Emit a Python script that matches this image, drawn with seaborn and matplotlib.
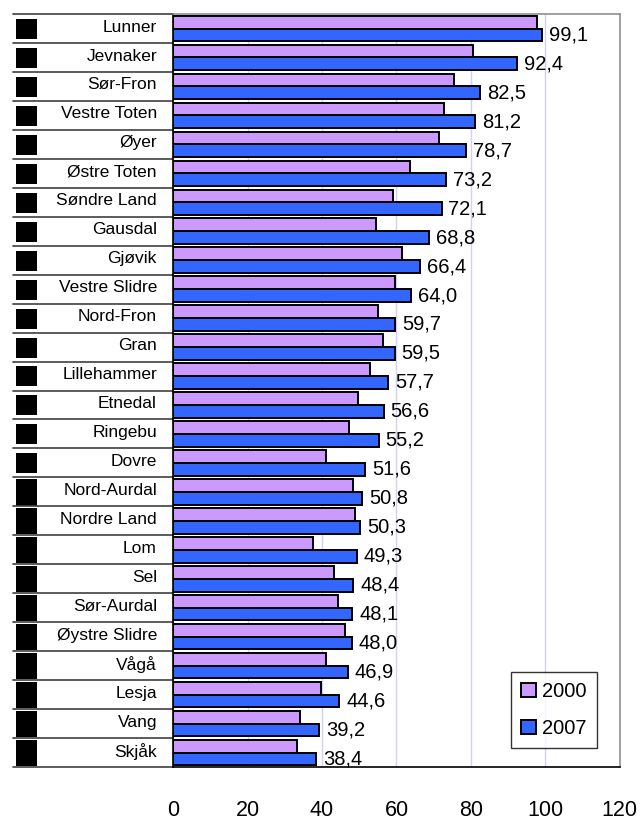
import pandas as pd
import seaborn as sns
import matplotlib.pyplot as plt
from matplotlib.patches import Rectangle

# --- data ---
kommuner = ["Lunner", "Jevnaker", "Sør-Fron", "Vestre Toten", "Øyer", "Østre Toten",
            "Søndre Land", "Gausdal", "Gjøvik", "Vestre Slidre", "Nord-Fron", "Gran",
            "Lillehammer", "Etnedal", "Ringebu", "Dovre", "Nord-Aurdal", "Nordre Land",
            "Lom", "Sel", "Sør-Aurdal", "Øystre Slidre", "Vågå", "Lesja", "Vang", "Skjåk"]
v2000 = [97.7, 80.6, 75.5, 72.8, 71.3, 63.6, 59.0, 54.5, 61.6, 59.6, 55.0, 56.4,
         52.8, 49.8, 47.3, 41.1, 48.2, 48.8, 37.5, 43.1, 44.3, 46.2, 41.1, 39.6, 34.0, 33.4]
v2007 = [99.1, 92.4, 82.5, 81.2, 78.7, 73.2, 72.1, 68.8, 66.4, 64.0, 59.7, 59.5,
         57.7, 56.6, 55.2, 51.6, 50.8, 50.3, 49.3, 48.4, 48.1, 48.0, 46.9, 44.6, 39.2, 38.4]
years = ["2000", "2007"]
xticks = [0, 20, 40, 60, 80, 100, 120]

df = pd.DataFrame({
    "Kommune": kommuner * 2,
    "Verdi": v2000 + v2007,
    "År": [years[0]] * len(kommuner) + [years[1]] * len(kommuner),
})

sns.set_style("white")
plt.rcParams["font.family"] = ["Liberation Sans", "DejaVu Sans"]
plt.rcParams["text.color"] = "black"
plt.rcParams["xtick.color"] = "black"

fig = plt.figure(figsize=(6.41, 8.35), dpi=100)
ax = fig.add_axes([0.27, 0.0814, 0.697, 0.9018])

sns.barplot(data=df, y="Kommune", x="Verdi", hue="År", order=kommuner,
            palette=["#CC99FF", "#3366FF"], width=0.88, edgecolor="black",
            linewidth=1.4, saturation=1, ax=ax, orient="h")

ax.set_xlim(0, 120)
ax.set_ylim(len(kommuner) - 0.5, -0.5)
ax.set_xticks(xticks)
ax.set_xticklabels([str(t) for t in xticks], fontsize=15.5, color="black")
ax.tick_params(axis="x", direction="out", length=5, width=1, color="black", pad=19)
ax.set_yticks([])
ax.set_xlabel("")
ax.set_ylabel("")

# grid
for t in xticks[1:-1]:
    ax.axvline(t, color="#D0D0F8", lw=1, zorder=0)

for s in ["top", "right"]:
    ax.spines[s].set_color("#909090")
for s in ["left", "bottom"]:
    ax.spines[s].set_color("black")
for s in ax.spines.values():
    s.set_linewidth(1.2)

# value labels for 2007
labels = [f"{v:.1f}".replace(".", ",") for v in v2007]
ax.bar_label(ax.containers[1], labels=labels, padding=5, fontsize=14.5, color="black")

# left label table
tr = ax.get_yaxis_transform()
for i, name in enumerate(kommuner):
    ax.text(-0.036, i - 0.05, name, transform=tr, ha="right", va="center",
            fontsize=12.5, color="black", clip_on=False)
    if i < 16:
        h = 0.69
        y0 = i - 0.5 + 0.17
    else:
        h = 0.92
        y0 = i - 0.5 + 0.05
    ax.add_patch(Rectangle((-0.351, y0), 0.047, h, transform=tr,
                           facecolor="black", edgecolor="none", clip_on=False))
for i in range(len(kommuner) + 1):
    ax.plot([-0.358, 0], [i - 0.5, i - 0.5], transform=tr, color="#404040",
            lw=1.2, clip_on=False)

# legend
leg = ax.legend(loc="lower left", bbox_to_anchor=(0.756, 0.025), fontsize=14.5,
                frameon=True, fancybox=False, handlelength=0.75, handleheight=0.75,
                labelspacing=0.9, borderpad=0.5, handletextpad=0.3, borderaxespad=0,
                title=None)
leg.get_frame().set_edgecolor("black")
leg.get_frame().set_linewidth(1.0)
for t in leg.get_texts():
    t.set_color("black")

fig.savefig("out.png", dpi=100)
